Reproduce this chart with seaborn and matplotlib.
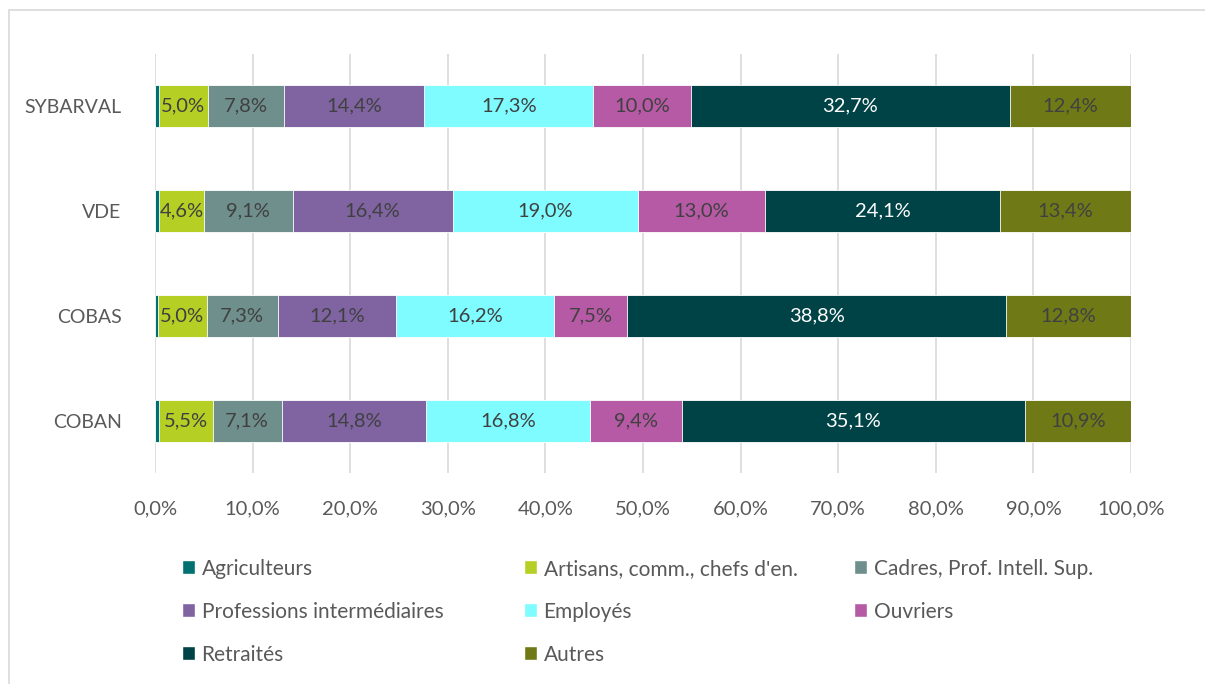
import numpy as np
import pandas as pd
import seaborn as sns
import matplotlib.pyplot as plt
from matplotlib.patches import Rectangle, Patch

# data
territoires = ["SYBARVAL", "VDE", "COBAS", "COBAN"]
categories = ["Agriculteurs", "Artisans, comm., chefs d'en.", "Cadres, Prof. Intell. Sup.",
              "Professions intermédiaires", "Employés", "Ouvriers", "Retraités", "Autres"]
agriculteurs = [0.4, 0.4, 0.3, 0.4]
artisans = [5.0, 4.6, 5.0, 5.5]
cadres = [7.8, 9.1, 7.3, 7.1]
prof_inter = [14.4, 16.4, 12.1, 14.8]
employes = [17.3, 19.0, 16.2, 16.8]
ouvriers = [10.0, 13.0, 7.5, 9.4]
retraites = [32.7, 24.1, 38.8, 35.1]
autres = [12.4, 13.4, 12.8, 10.9]

colors = ["#007070", "#b5cf24", "#6f8f8c", "#8064a2", "#7ffcff", "#b65aa5", "#004346", "#6f7a17"]
txt_colors = ["#404040"] * 6 + ["white", "#404040"]

series = [agriculteurs, artisans, cadres, prof_inter, employes, ouvriers, retraites, autres]
df = pd.DataFrame(np.array(series).T, index=territoires, columns=categories)
cum = df.cumsum(axis=1)

sns.set_style("white")
plt.rcParams['font.family'] = ['Lato', 'DejaVu Sans']

fig = plt.figure(figsize=(12.05, 6.84), dpi=100)
ax = fig.add_axes([155/1205, 1-473/684, (1131-155)/1205, (473-54)/684])

# draw cumulative bars from the last category back to the first
for i in range(len(categories)-1, -1, -1):
    d = pd.DataFrame({"terr": territoires, "val": cum[categories[i]].values})
    sns.barplot(data=d, x="val", y="terr", orient="h", color=colors[i], width=0.4,
                saturation=1, ax=ax, edgecolor="white", linewidth=0.6, zorder=3)

# labels
for i, c in enumerate(categories):
    if i == 0:
        continue
    for j, t in enumerate(territoires):
        v = df.loc[t, c]
        x = cum.loc[t, c] - v/2
        ax.text(x, j, f"{v:.1f}%".replace(".", ","), ha="center", va="center",
                fontsize=14.5, color=txt_colors[i], zorder=5)

ax.set_xlim(0, 100)
ax.set_ylim(3.5, -0.5)
ax.set_xticks(np.arange(0, 101, 10))
ax.set_xticklabels([f"{v:.1f}%".replace(".", ",") for v in np.arange(0, 101, 10)])
ax.xaxis.grid(True, color="#d9d9d9", linewidth=1.2, zorder=0)
ax.set_axisbelow(True)
for s in ax.spines.values():
    s.set_visible(False)
ax.set_xlabel("")
ax.set_ylabel("")
ax.tick_params(axis="both", length=0, labelsize=14.5, labelcolor="#595959")
ax.tick_params(axis="x", pad=20)
ax.tick_params(axis="y", labelsize=14, pad=24)

# legend, one column at a time so the x positions match
handles = [Patch(facecolor=c) for c in colors]
col_items = [[0, 3, 6], [1, 4, 7], [2, 5]]
col_x = [163, 505, 835]
for items, x0 in zip(col_items, col_x):
    lg = fig.legend([handles[k] for k in items], [categories[k] for k in items],
                    loc="upper left", bbox_to_anchor=(x0/1205, 1-540/684),
                    frameon=False, fontsize=15, labelcolor="#595959",
                    handlelength=0.65, handleheight=0.65, handletextpad=0.3,
                    labelspacing=1.1)

fig.add_artist(Rectangle((9/1205, -0.1), 2, 1-10/684+0.1, transform=fig.transFigure,
                         fill=False, edgecolor="#d9d9d9", linewidth=1.2))

plt.savefig("out.png", dpi=100)
